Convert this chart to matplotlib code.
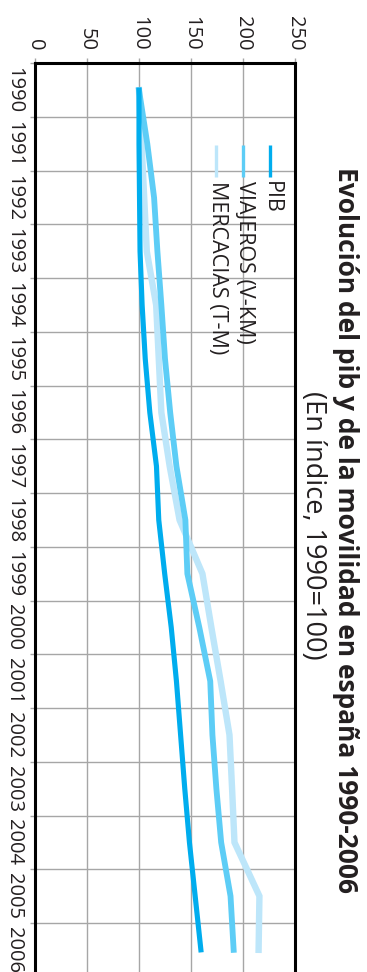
import numpy as np
import matplotlib
matplotlib.use("Agg")
import matplotlib.pyplot as plt

plt.rcParams['font.family'] = ['Open Sans', 'DejaVu Sans']

years = ["1990", "1991", "1992", "1993", "1994", "1995", "1996", "1997", "1998",
         "1999", "2000", "2001", "2002", "2003", "2004", "2005", "2006"]
pib = [100, 100, 100.5, 101, 103, 106, 110.4, 116.8, 119, 124.7, 131, 136, 140, 144, 148.5, 154, 159.5]
viajeros = [100, 108, 114.5, 117.7, 121.5, 125, 130, 136, 144.6, 146.5, 158, 168.5, 170.6, 174.4, 179, 188, 191]
mercancias = [100, 102.5, 105, 107.5, 116.5, 119, 121.5, 129.5, 139, 161, 169.6, 178.5, 187, 189.5, 191.8, 215.8, 215]
series_names = ["PIB", "VIAJEROS (V-KM)", "MERCACIAS (T-M)"]
value_ticks = [0, 50, 100, 150, 200, 250]

title = "Evolución del pib y de la movilidad en españa 1990-2006"
subtitle = "(En índice, 1990=100)"

c_pib = "#00adee"
c_via = "#5dcdf6"
c_mer = "#bde6fa"
txt = "#231f20"
grid_c = "#a6a6a6"

fig = plt.figure(figsize=(3.67, 9.72), dpi=100)
ax = fig.add_axes([35 / 367, (972 - 976.7) / 972, 260 / 367, 913.4 / 972])

pos = np.arange(len(years))
ax.plot(mercancias, pos, color=c_mer, lw=4.6, zorder=3, solid_joinstyle='miter')
ax.plot(viajeros, pos, color=c_via, lw=4.2, zorder=4, solid_joinstyle='miter')
ax.plot(pib, pos, color=c_pib, lw=3.7, zorder=5, solid_joinstyle='miter')

ax.set_xlim(0, 250)
ax.set_ylim(len(years) - 0.5, -0.5)

# value axis along the top
ax.xaxis.tick_top()
ax.set_xticks(value_ticks)
ax.set_xticklabels([str(v) for v in value_ticks], rotation=-90, ha='center', va='bottom',
                   fontsize=14.5, color=txt)
ax.tick_params(axis='x', length=3.6, width=1.0, color=grid_c, pad=5.5)

# year bands: ticks/grid on the band edges, labels at the centres
ax.set_yticks(np.arange(-0.5, len(years) + 0.5, 1))
ax.set_yticklabels([])
ax.set_yticks(pos, minor=True)
ax.set_yticklabels(years, minor=True, rotation=-90, ha='right', va='center',
                   fontsize=14.5, color=txt)
ax.tick_params(axis='y', which='major', length=3.6, width=1.0, color=grid_c)
ax.tick_params(axis='y', which='minor', length=0, pad=8.0)

ax.grid(True, which='major', color=grid_c, lw=1.0)
ax.set_axisbelow(True)

for side in ['top', 'left', 'right']:
    ax.spines[side].set_color('black')
    ax.spines[side].set_linewidth(2.2)
ax.spines['bottom'].set_visible(False)

# legend drawn as short vertical keys with rotated labels
leg_x = [0.904, 0.800, 0.696]
for x, col, name in zip(leg_x, [c_pib, c_via, c_mer], series_names):
    ax.plot([x, x], [0.9106, 0.8755], transform=ax.transAxes, color=col, lw=2.4,
            solid_capstyle='butt', zorder=6)
    ax.text(x + 0.004, 0.871, name, transform=ax.transAxes, rotation=-90,
            ha='center', va='top', fontsize=15.5, color=txt, zorder=6)

fig.text(345 / 367, 1 - 529.5 / 972, title, rotation=-90, ha='center', va='center',
         fontsize=19, fontweight='bold', color=txt)
fig.text(313 / 367, 1 - 525 / 972, subtitle, rotation=-90, ha='center', va='center',
         fontsize=19.5, color=txt)

fig.savefig("out.png", dpi=100)
